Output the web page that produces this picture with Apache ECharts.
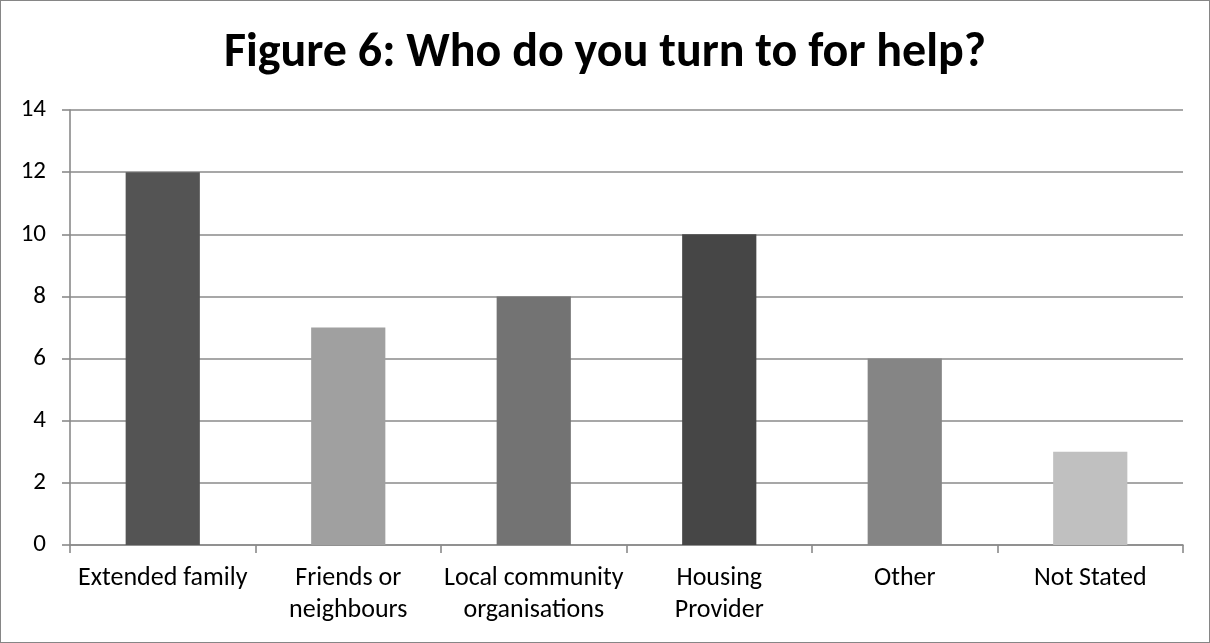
<!DOCTYPE html>
<html>
<head>
<meta charset="utf-8">
<script src="https://cdn.jsdelivr.net/npm/echarts@6/dist/echarts.min.js"></script>
<style>
  html, body { margin: 0; padding: 0; background: #fff; }
  #frame { position: absolute; left: 0; top: 0; width: 1208px; height: 641px; border: 1px solid #868686; box-sizing: content-box; }
  #chart { width: 1208px; height: 641px; }
</style>
</head>
<body>
<div id="frame"><div id="chart"></div></div>
<script>
// Responses: who people turn to for help
const categories = ['Extended family', 'Friends or\nneighbours', 'Local community\norganisations', 'Housing\nProvider', 'Other', 'Not Stated'];
const counts = [12, 7, 8, 10, 6, 3];
const barColors = ['#545454', '#a0a0a0', '#737373', '#464646', '#858585', '#c0c0c0'];
const yTicks = { min: 0, max: 14, interval: 2 };

const font = 'Carlito, Calibri, "Open Sans", "Liberation Sans", sans-serif';
const lineGrey = '#8a8a8a';
const chart = echarts.init(document.getElementById('chart'), null, { renderer: 'canvas' });
chart.setOption({
  animation: false,
  title: {
    text: 'Figure 6: Who do you turn to for help?',
    left: 'center',
    top: 24,
    textStyle: { fontFamily: font, fontWeight: 'bold', fontSize: 48, color: '#000' }
  },
  grid: { left: 69, right: 26, top: 109, bottom: 97, containLabel: false },
  xAxis: {
    type: 'category',
    data: categories,
    axisLine: { lineStyle: { color: lineGrey, width: 1.6 } },
    axisTick: { show: true, length: 8, alignWithLabel: false, lineStyle: { color: lineGrey, width: 1.6 } },
    axisLabel: { fontFamily: font, fontSize: 26, color: '#000', margin: 17, lineHeight: 32, interval: 0 }
  },
  yAxis: {
    type: 'value',
    min: yTicks.min, max: yTicks.max, interval: yTicks.interval,
    axisLine: { show: true, lineStyle: { color: lineGrey, width: 1.6 } },
    axisTick: { show: true, length: 8, lineStyle: { color: lineGrey, width: 1.6 } },
    splitLine: { lineStyle: { color: lineGrey, width: 1.6 } },
    axisLabel: { fontFamily: font, fontSize: 25, color: '#000', margin: 24 }
  },
  series: [{
    type: 'bar',
    barCategoryGap: '60%',
    data: counts.map((v, i) => ({ value: v, itemStyle: { color: barColors[i] } }))
  }]
});
</script>
</body>
</html>
